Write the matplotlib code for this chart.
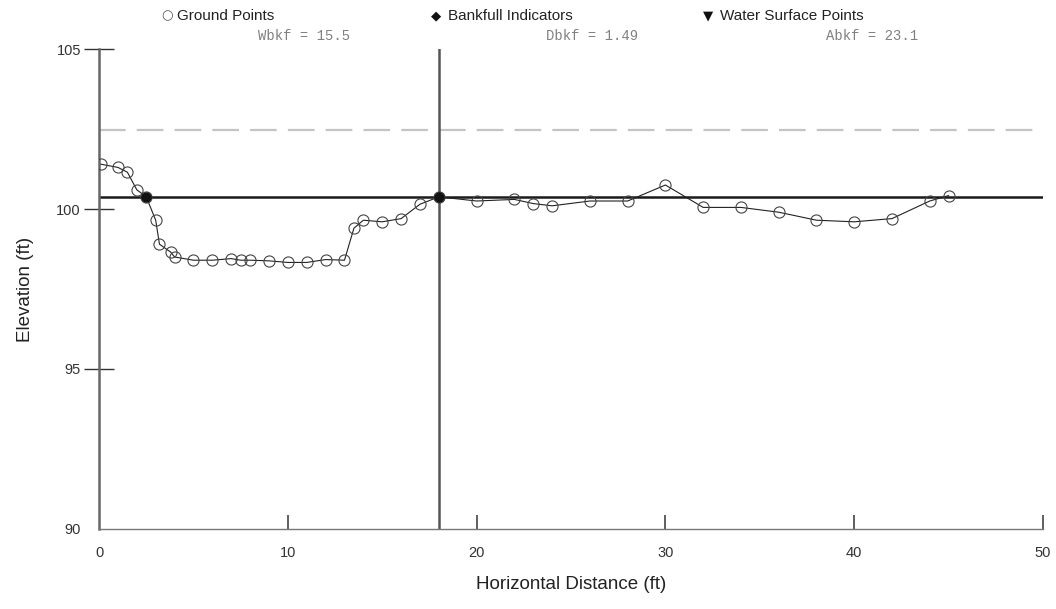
import matplotlib
matplotlib.use('Agg')
import matplotlib.pyplot as plt

plt.rcParams['font.family'] = ['Liberation Sans', 'DejaVu Sans']

# ground survey (station ft, elevation ft)
station = [0.1, 1.0, 1.5, 2.0, 2.5, 3.0, 3.2, 3.8, 4.0, 5.0, 6.0, 7.0, 7.5, 8.0,
           9.0, 10.0, 11.0, 12.0, 13.0, 13.5, 14.0, 15.0, 16.0, 17.0, 18.0,
           20.0, 22.0, 23.0, 24.0, 26.0, 28.0, 30.0, 32.0, 34.0, 36.0, 38.0,
           40.0, 42.0, 44.0, 45.0]
elevation = [101.4, 101.3, 101.15, 100.6, 100.38, 99.65, 98.9, 98.65, 98.5, 98.4,
             98.4, 98.45, 98.4, 98.4, 98.38, 98.33, 98.33, 98.42, 98.4, 99.4,
             99.65, 99.6, 99.7, 100.15, 100.38, 100.25, 100.3, 100.17, 100.1,
             100.25, 100.25, 100.75, 100.05, 100.05, 99.9, 99.65, 99.6, 99.7,
             100.25, 100.42]

bankfull_x = [2.5, 18.0]
bankfull_elev = 100.38
floodprone_elev = 102.47
wbkf = 15.5
dbkf = 1.49
abkf = 23.1

fig = plt.figure(figsize=(10.56, 6.09), dpi=100)
ax = fig.add_axes([0.0938, 0.1314, 0.8939, 0.7881])

ax.set_xlim(0, 50)
ax.set_ylim(90, 105)

ax.axhline(floodprone_elev, color='#c4c4c4', lw=1.6, dashes=(12, 5), zorder=1)
ax.axhline(bankfull_elev, color='#1a1a1a', lw=1.8, zorder=2)
ax.axvline(bankfull_x[1], color='#555555', lw=1.8, zorder=2)

ax.plot(station, elevation, color='#222222', lw=0.8, marker='o', ms=8,
        mfc='none', mec='#444444', mew=0.8, zorder=3)
ax.plot(bankfull_x, [bankfull_elev] * len(bankfull_x), ls='none', marker='o',
        ms=6.5, color='#111111', zorder=4)

for s in ['top', 'right']:
    ax.spines[s].set_visible(False)
ax.spines['left'].set_color('#666666')
ax.spines['left'].set_linewidth(1.8)
ax.spines['bottom'].set_color('#777777')
ax.spines['bottom'].set_linewidth(1.0)

ax.set_xticks([0, 10, 20, 30, 40, 50])
ax.set_yticks([90, 95, 100, 105])
ax.tick_params(axis='x', direction='in', length=10, width=1.2, color='#444444',
               pad=12, labelsize=10.5, labelcolor='#333333')
ax.tick_params(axis='y', direction='inout', length=22, width=1.0, color='#333333',
               pad=2, labelsize=10.5, labelcolor='#333333')
ax.get_xticklines()[0].set_visible(False)
ax.get_yticklines()[0].set_visible(False)

ax.set_xlabel('Horizontal Distance (ft)', fontsize=13.5, labelpad=12, color='#222222')
ax.set_ylabel('Elevation (ft)', fontsize=13.5, labelpad=16, color='#222222')

# legend row along the top
legend_font = ['Liberation Sans', 'DejaVu Sans']
fig.text(0.1525, 0.9745, '\u25cb', fontsize=9.5, va='center',
         family=['DejaVu Sans'], color='#555555')
fig.text(0.1675, 0.974, 'Ground Points', fontsize=11, va='center',
         family=legend_font, color='#222222')
fig.text(0.4085, 0.9745, '\u25c6', fontsize=9.5, va='center',
         family=['DejaVu Sans'], color='#111111')
fig.text(0.4245, 0.974, 'Bankfull Indicators', fontsize=11, va='center',
         family=legend_font, color='#222222')
fig.text(0.6655, 0.9745, '\u25bc', fontsize=9.5, va='center',
         family=['DejaVu Sans'], color='#111111')
fig.text(0.6815, 0.974, 'Water Surface Points', fontsize=11, va='center',
         family=legend_font, color='#222222')

mono = ['Liberation Mono', 'DejaVu Sans Mono']
fig.text(0.244, 0.941, f'Wbkf = {wbkf}', fontsize=10, va='center', family=mono,
         color='#808080')
fig.text(0.517, 0.941, f'Dbkf = {dbkf}', fontsize=10, va='center', family=mono,
         color='#808080')
fig.text(0.782, 0.941, f'Abkf = {abkf}', fontsize=10, va='center', family=mono,
         color='#808080')

fig.savefig('out.png', dpi=100)
